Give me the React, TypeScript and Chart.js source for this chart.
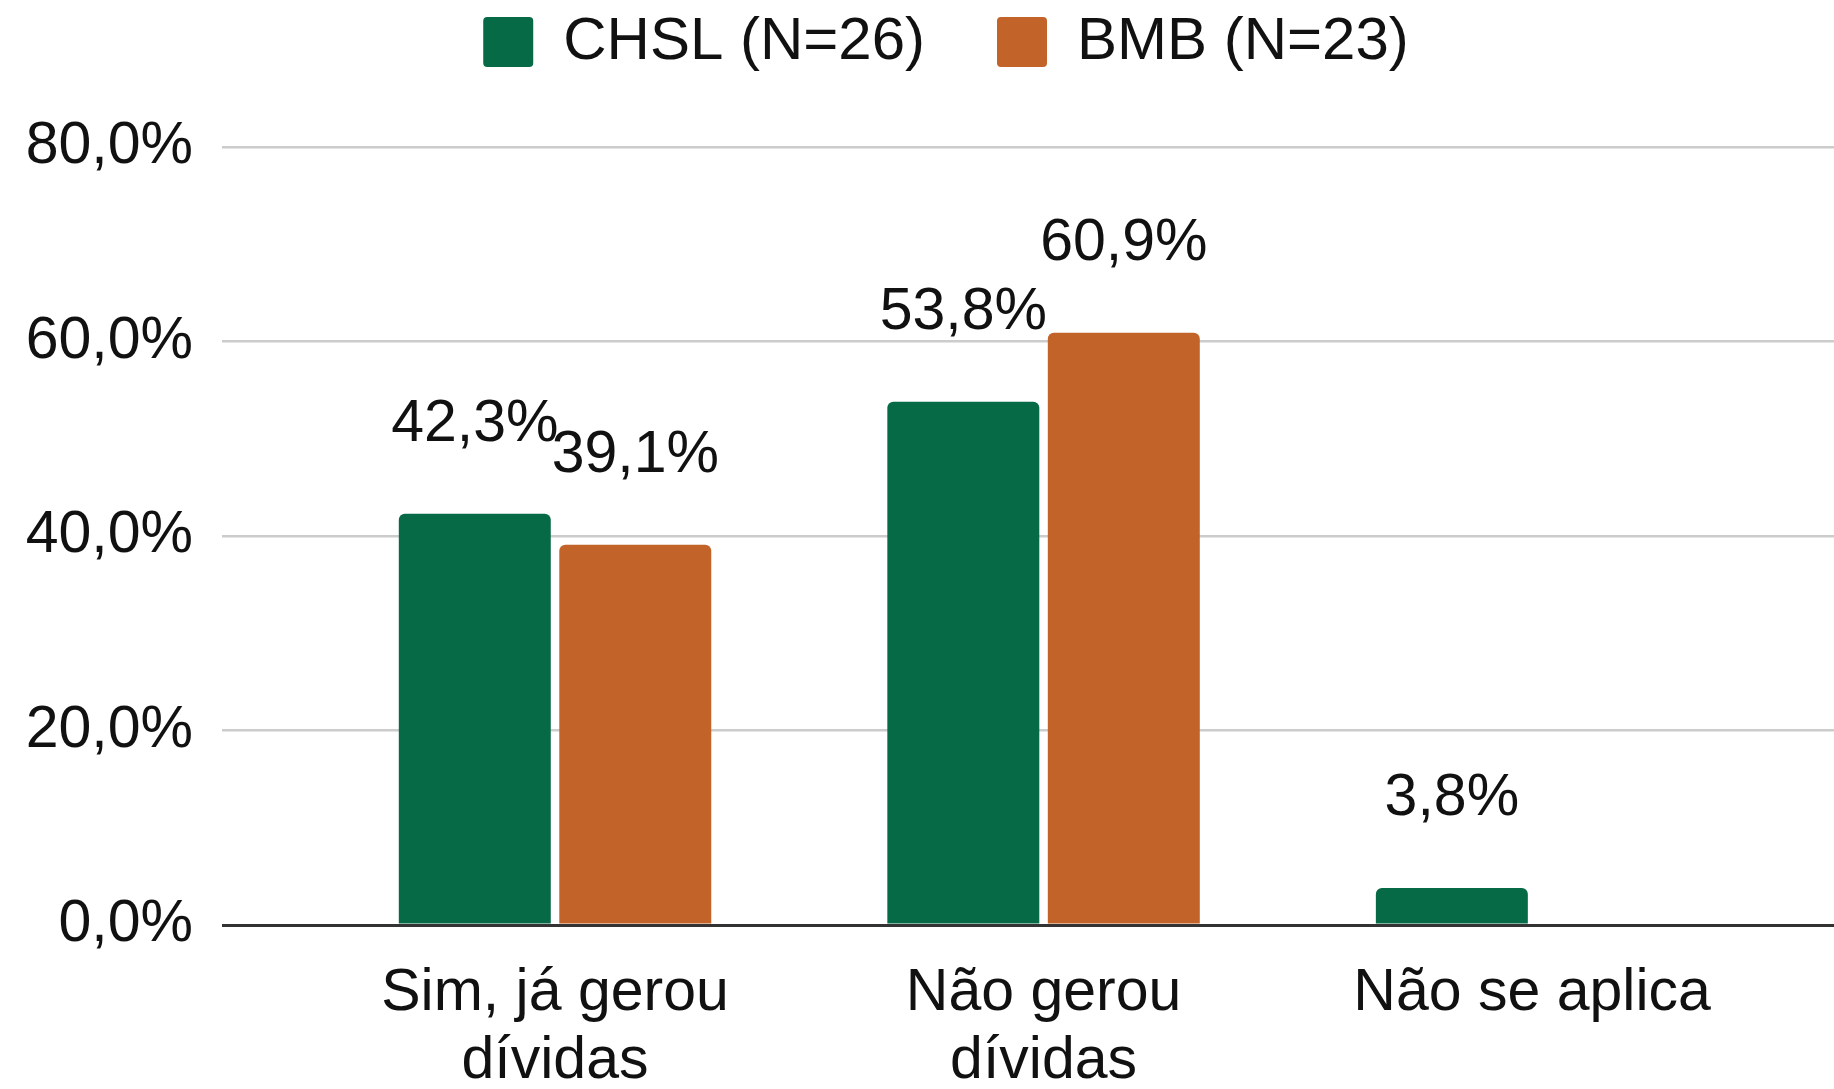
import { useEffect, useRef } from 'react';
import { Chart, registerables } from 'chart.js';

Chart.register(...registerables);

// ---- data ----
const categories: string[][] = [["Sim, já gerou", "dívidas"], ["Não gerou", "dívidas"], ["Não se aplica"]];
const seriesNames = ["CHSL (N=26)", "BMB (N=23)"];
const chslValues: (number | null)[] = [42.3, 53.8, 3.8];
const bmbValues: (number | null)[] = [39.1, 60.9, null];
const yTicks = [0, 20, 40, 60, 80];

const FONT = "'Liberation Sans', Arial, Helvetica, sans-serif";
const TEXT = '#111111';
const GREEN = '#076a47';
const ORANGE = '#c2632a';
const fmt = (v: number) => v.toFixed(1).replace('.', ',') + '%';

const valueLabels = {
  id: 'valueLabels',
  afterDatasetsDraw(chart: any) {
    const ctx = chart.ctx;
    ctx.save();
    ctx.font = `59px ${FONT}`;
    ctx.fillStyle = TEXT;
    ctx.textAlign = 'center';
    ctx.textBaseline = 'middle';
    chart.data.datasets.forEach((ds: any, di: number) => {
      const meta = chart.getDatasetMeta(di);
      meta.data.forEach((el: any, i: number) => {
        const v = ds.data[i]?.y;
        if (v == null || !isFinite(el.y)) return;
        ctx.fillText(fmt(v), el.x, el.y - 89);
      });
    });
    ctx.restore();
  },
};

const legendSpace = {
  id: 'legendSpace',
  beforeInit(chart: any) {
    const legend = chart.legend;
    if (!legend) return;
    const fit = legend.fit;
    legend.fit = function () {
      fit.call(this);
      this.height = 147;
    };
  },
  afterLayout(chart: any) {
    const legend = chart.legend;
    if (!legend) return;
    legend.left += 16;
    legend.right += 16;
  },
};

export default function App() {
  const ref = useRef<HTMLCanvasElement | null>(null);
  useEffect(() => {
    if (!ref.current) return;
    Chart.defaults.font.family = FONT;
    const chart = new Chart(ref.current, {
      type: 'bar',
      data: {
        datasets: [
          {
            label: seriesNames[0],
            data: chslValues.map((v, i) => ({ x: i, y: v })) as any,
            backgroundColor: GREEN,
            borderWidth: 0,
            borderRadius: 6,
            borderSkipped: 'start',
            categoryPercentage: 0.657,
            barPercentage: 0.947,
          },
          {
            label: seriesNames[1],
            data: bmbValues.map((v, i) => ({ x: i, y: v })) as any,
            backgroundColor: ORANGE,
            borderWidth: 0,
            borderRadius: 6,
            borderSkipped: 'start',
            categoryPercentage: 0.657,
            barPercentage: 0.947,
          },
        ],
      },
      options: {
        animation: false,
        responsive: true,
        maintainAspectRatio: false,
        devicePixelRatio: 1,
        layout: { padding: { left: 26, right: 0, top: 0, bottom: 0 } },
        plugins: {
          tooltip: { enabled: false },
          legend: {
            display: true,
            position: 'top',
            labels: {
              boxWidth: 50,
              boxHeight: 50,
              padding: 12,
              color: TEXT,
              font: { size: 60, family: FONT },
              useBorderRadius: true,
              borderRadius: 4,
              generateLabels: (chart: any) => {
                const items = (Chart.defaults.plugins.legend.labels as any).generateLabels(chart);
                items.forEach((it: any, i: number) => {
                  if (i < items.length - 1) it.text = it.text + '\u2003';
                });
                return items;
              },
            },
          },
        },
        scales: {
          x: {
            type: 'linear',
            offset: false,
            min: -0.6817,
            max: 2.618,
            afterBuildTicks: (axis: any) => {
              axis.ticks = categories.map((_, i) => ({ value: i }));
            },
            afterFit: (scale: any) => {
              scale.height = 164;
            },
            ticks: {
              autoSkip: false,
              maxRotation: 0,
              minRotation: 0,
              padding: 35,
              color: TEXT,
              font: { size: 59, family: FONT, lineHeight: 1.15 },
              callback: (v: any) => categories[v] ?? '',
            },
            grid: { display: false, drawTicks: false, offset: false },
            border: { display: false },
          },
          y: {
            min: 0,
            max: 80,
            afterBuildTicks: (axis: any) => {
              axis.ticks = yTicks.map((v) => ({ value: v }));
            },
            afterFit: (scale: any) => {
              scale.width = 196;
            },
            ticks: {
              padding: 29,
              color: TEXT,
              font: { size: 59, family: FONT },
              callback: (v: any) => fmt(Number(v)),
            },
            grid: {
              drawTicks: false,
              color: (c: any) => (c.tick && c.tick.value === 0 ? '#333333' : '#cccccc'),
              lineWidth: (c: any) => (c.tick && c.tick.value === 0 ? 3 : 2.5),
            },
            border: { display: false },
          },
        },
      } as any,
      plugins: [legendSpace, valueLabels],
    });
    return () => chart.destroy();
  }, []);

  return (
    <div style={{ position: 'fixed', left: 0, top: 0, width: '100vw', height: '100vh', background: '#ffffff' }}>
      <canvas ref={ref} />
    </div>
  );
}
